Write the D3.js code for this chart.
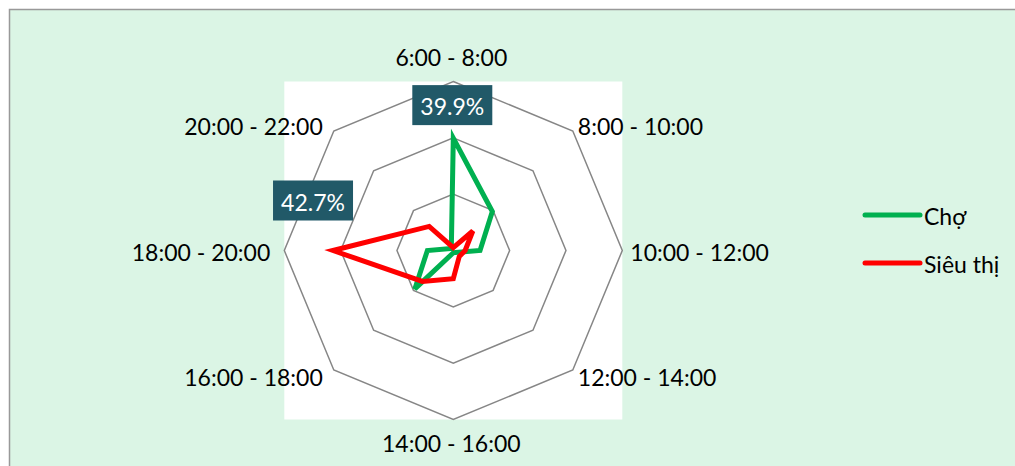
<!DOCTYPE html>
<html>
<head>
<meta charset="utf-8">
<script src="https://cdn.jsdelivr.net/npm/d3@7"></script>
<style>
  html, body { margin: 0; padding: 0; background: #ffffff; }
  text { font-family: Lato, "Noto Sans", sans-serif; }
</style>
</head>
<body>
<div id="root"></div>
<script>
const categories = ["6:00 - 8:00", "8:00 - 10:00", "10:00 - 12:00", "12:00 - 14:00",
  "14:00 - 16:00", "16:00 - 18:00", "18:00 - 20:00", "20:00 - 22:00"]
const seriesNames = ["Chợ", "Siêu thị"]
const choValues = [39.9, 19.6, 9.5, 1.0, 0.8, 19.3, 9.2, 1.0]
const sieuThiValues = [1.0, 9.8, 4.2, 3.0, 10.0, 15.5, 42.7, 12.1]
const ringTicks = [20, 40, 60]
const labelledPoints = [{ series: 0, index: 0 }, { series: 1, index: 6 }]

function drawRadar() {
  const width = 1015
  const height = 466
  const center = { x: 453.3, y: 250.5 }
  const radius = 169
  const colors = ["#00b050", "#ff0000"]
  const series = [choValues, sieuThiValues]

  const ROOT_ELEM = d3.select("#root")
  ROOT_ELEM.selectAll("*").remove()

  const wrapper = ROOT_ELEM.append("svg")
    .attr("width", width)
    .attr("height", height)

  // chart area background + border
  wrapper.append("rect")
    .attr("x", 9.5).attr("y", 9.5)
    .attr("width", width + 20).attr("height", height + 20)
    .attr("fill", "#dbf5e5")
    .attr("stroke", "#999999")
    .attr("stroke-width", 1.5)

  // white plot area
  wrapper.append("rect")
    .attr("x", center.x - radius).attr("y", center.y - radius)
    .attr("width", radius * 2).attr("height", radius * 2)
    .attr("fill", "#ffffff")

  const bounds = wrapper.append("g")
    .attr("transform", `translate(${center.x},${center.y})`)

  const angleScale = d3.scalePoint()
    .domain(d3.range(categories.length + 1))
    .range([0, Math.PI * 2])
  const rScale = d3.scaleLinear()
    .domain([0, d3.max(ringTicks)])
    .range([0, radius])

  const lineGen = d3.lineRadial()
    .angle((d, i) => angleScale(i))
    .radius(d => rScale(d))
    .curve(d3.curveLinearClosed)

  // rings
  bounds.append("g").selectAll("path")
    .data(ringTicks)
    .join("path")
    .attr("d", t => lineGen(categories.map(() => t)))
    .attr("fill", "none")
    .attr("stroke", "#868686")
    .attr("stroke-width", 1.5)

  // category labels
  const side = i => {
    const s = Math.sin(angleScale(i))
    return Math.abs(s) < 0.01 ? 0 : Math.sign(s)
  }
  const vert = i => {
    const c = Math.cos(angleScale(i))
    return Math.abs(c) < 0.01 ? 0 : Math.sign(c)
  }
  bounds.append("g").selectAll("text")
    .data(categories)
    .join("text")
    .attr("x", (d, i) => {
      const x = radius * Math.sin(angleScale(i))
      if (side(i) === 0) return -2
      if (vert(i) === 0) return x + (side(i) > 0 ? 8 : -14)
      return x + (side(i) > 0 ? 5 : -11)
    })
    .attr("y", (d, i) => {
      const y = -radius * Math.cos(angleScale(i))
      if (vert(i) > 0 && side(i) === 0) return y - 25
      if (vert(i) < 0 && side(i) === 0) return y + 23
      return y - 6 * vert(i) + 1
    })
    .attr("text-anchor", (d, i) => side(i) === 0 ? "middle" : (side(i) > 0 ? "start" : "end"))
    .attr("dominant-baseline", "central")
    .attr("font-size", 23)
    .attr("fill", "#000000")
    .text(d => d)

  // series lines
  bounds.append("g").selectAll("path")
    .data(series)
    .join("path")
    .attr("d", d => lineGen(d))
    .attr("fill", "none")
    .attr("stroke", (d, i) => colors[i])
    .attr("stroke-width", 5)
    .attr("stroke-linejoin", "miter")

  // data labels
  const labelOffsets = [{ dx: -1, dy: -33 }, { dx: -20, dy: -50 }]
  const labelGroups = bounds.append("g").selectAll("g")
    .data(labelledPoints)
    .join("g")
    .attr("transform", (d, k) => {
      const a = angleScale(d.index)
      const r = rScale(series[d.series][d.index])
      const x = r * Math.sin(a) + labelOffsets[k].dx
      const y = -r * Math.cos(a) + labelOffsets[k].dy
      return `translate(${x},${y})`
    })
  labelGroups.append("rect")
    .attr("x", -40).attr("y", -20)
    .attr("width", 80).attr("height", 40)
    .attr("fill", "#215968")
  labelGroups.append("text")
    .attr("text-anchor", "middle")
    .attr("dominant-baseline", "central")
    .attr("y", 1)
    .attr("font-size", 23)
    .attr("fill", "#ffffff")
    .text(d => series[d.series][d.index].toFixed(1) + "%")

  // legend
  const legend = wrapper.append("g")
    .attr("transform", "translate(865,215)")
  const legendItems = legend.selectAll("g")
    .data(seriesNames)
    .join("g")
    .attr("transform", (d, i) => `translate(0,${i * 48})`)
  legendItems.append("line")
    .attr("x1", 0).attr("x2", 55)
    .attr("stroke", (d, i) => colors[i])
    .attr("stroke-width", 5)
    .attr("stroke-linecap", "round")
  legendItems.append("text")
    .attr("x", 59)
    .attr("y", 1)
    .attr("dominant-baseline", "central")
    .attr("font-size", 23)
    .attr("fill", "#000000")
    .text(d => d)
}

drawRadar()
</script>
</body>
</html>
